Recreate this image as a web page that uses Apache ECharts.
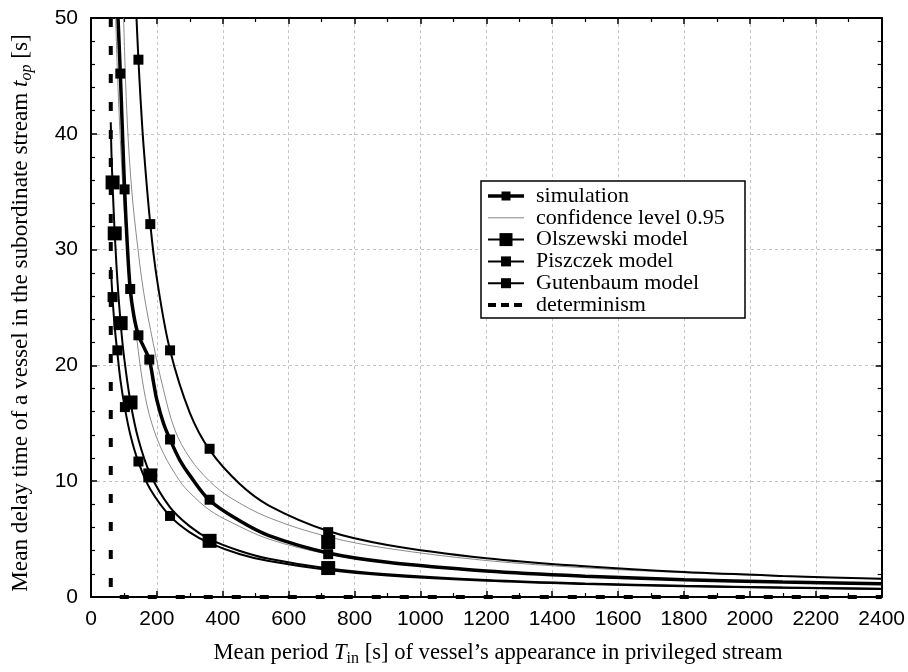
<!DOCTYPE html>
<html>
<head>
<meta charset="utf-8">
<script src="https://cdn.jsdelivr.net/npm/echarts@6/dist/echarts.min.js"></script>
<style>
html,body{margin:0;padding:0;background:#fff;}
#c{width:908px;height:672px;}
</style>
</head>
<body>
<div id="c"></div>
<script>
// ---------- data ----------
const xTicks = [0,200,400,600,800,1000,1200,1400,1600,1800,2000,2200,2400];
const yTicks = [0,10,20,30,40,50];

// simulation (thick line)
const T_SIM = [82, 89, 95, 102, 110, 119, 130, 144, 160, 177, 190, 200, 220, 240, 270, 300, 360, 450, 540, 720, 900, 1200, 1500, 1800, 2100, 2400];
const SIM   = [50, 45.2, 40.5, 35.2, 30.5, 26.6, 24.3, 22.6, 21.6, 20.5, 18.5, 17.0, 15.0, 13.6, 11.8, 10.5, 8.35, 6.6, 5.3, 3.8, 3.0, 2.25, 1.8, 1.5, 1.3, 1.15];
// 0.95 confidence band
const T_UP = [99, 105, 113, 125, 139, 160, 189, 220, 255, 300, 360, 422, 540, 720, 900, 1200, 1500, 1800, 2100, 2400];
const CONF_UP = [50, 44.5, 39.5, 34.7, 30.9, 26.3, 21.9, 17.9, 14.4, 12.0, 10.0, 8.6, 6.85, 5.2, 4.2, 3.15, 2.52, 2.1, 1.8, 1.56];
const T_LO = [75, 80, 89, 100, 107, 120, 139, 160, 184.5, 220, 270, 300, 360, 422, 540, 720, 900, 1200, 1500, 1800, 2100, 2400];
const CONF_LO = [50, 45.5, 39.5, 33.8, 31, 27, 22.3, 18.0, 15.0, 12.4, 10.0, 9.0, 7.5, 6.5, 5.0, 3.7, 2.95, 2.2, 1.75, 1.45, 1.25, 1.08];

// models
const T_OLS = [60, 62, 65.5, 70, 72, 80, 90, 100, 120, 144, 180, 240, 300, 360, 450, 540, 720, 900, 1200, 1500, 1800, 2100, 2400];
const OLS   = [41, 38.4, 35.6, 32.6, 31.4, 27.4, 23.65, 20.8, 16.8, 13.6, 10.6, 7.74, 6.1, 5.0, 4.0, 3.3, 2.46, 1.96, 1.46, 1.16, 0.97, 0.83, 0.72];
const T_PIS = [60, 65.5, 72, 80, 90, 102.9, 120, 144, 180, 240, 300, 360, 450, 540, 720, 900, 1200, 1500, 1800, 2100, 2400];
const PIS   = [28.5, 25.8, 23.3, 21.1, 18.6, 16.3, 13.95, 11.65, 9.3, 6.98, 5.58, 4.65, 3.72, 3.1, 2.33, 1.86, 1.4, 1.12, 0.93, 0.8, 0.70];
const T_GUT = [136, 140, 144, 150, 160, 180, 200, 240, 300, 360, 450, 540, 720, 900, 1200, 1500, 1800, 2100, 2400];
const GUT   = [51.3, 48.8, 46.4, 43.2, 38.8, 32.2, 27.5, 21.3, 15.9, 12.7, 9.8, 7.9, 5.7, 4.5, 3.35, 2.65, 2.15, 1.82, 1.57];

// markers
const SIM_MT = [89, 102, 119, 144, 177, 240, 360, 720];
const SIM_MV = [45.2, 35.2, 26.6, 22.6, 20.5, 13.6, 8.4, 3.7];
const OLS_MT = [65.5, 72, 90, 120, 180, 360, 720, 720];
const OLS_MV = [35.8, 31.4, 23.65, 16.8, 10.5, 4.85, 4.75, 2.5];
const PIS_MT = [65.5, 80, 102.9, 144, 240, 720];
const PIS_MV = [25.9, 21.3, 16.4, 11.7, 7.0, 2.33];
const GUT_MT = [144, 180, 240, 360, 720];
const GUT_MV = [46.4, 32.2, 21.3, 12.8, 5.6];

// determinism: delay unbounded below T=60, zero above
const DET_T = [60, 60, 2400];
const DET_V = [50, 0, 0];

const legendNames = ['simulation', 'confidence level 0.95', 'Olszewski model', 'Piszczek model', 'Gutenbaum model', 'determinism'];

// ---------- build ----------
const zip = (a, b) => a.map((x, i) => [x, b[i]]);
const chart = echarts.init(document.getElementById('c'), null, {renderer: 'canvas'});
const SERIF = '"Liberation Serif","Times New Roman",serif';
const SANS = '"Liberation Sans",Arial,sans-serif';

function lineS(name, T, V, w, color, z) {
  return {name, type: 'line', data: zip(T, V), smooth: 0.35, showSymbol: false, symbol: 'none',
    lineStyle: {color, width: w}, z: z || 3, silent: true, animation: false};
}
function markS(name, T, V, size) {
  return {name, type: 'scatter', data: zip(T, V), symbol: 'rect', symbolSize: size,
    itemStyle: {color: '#000', opacity: 1}, z: 5, silent: true, animation: false};
}

const axisCommonX = {
  type: 'value', min: xTicks[0], max: xTicks[xTicks.length - 1], interval: 200,
  axisLine: {show: true, onZero: false, lineStyle: {color: '#000', width: 2}},
  axisTick: {show: true, inside: true, length: 6, lineStyle: {color: '#000', width: 1.5}},
  minorTick: {show: true, splitNumber: 2, length: 4, lineStyle: {color: '#000', width: 1.2}},
};
const axisCommonY = {
  type: 'value', min: yTicks[0], max: yTicks[yTicks.length - 1], interval: 10,
  axisLine: {show: true, onZero: false, lineStyle: {color: '#000', width: 2}},
  axisTick: {show: true, inside: true, length: 6, lineStyle: {color: '#000', width: 1.5}},
  minorTick: {show: true, splitNumber: 5, length: 4, lineStyle: {color: '#000', width: 1.2}},
};

// legend drawn as graphic
const LX = 481, LY = 181, LW = 264, LH = 137, ROW = 21.8;
const legendG = [{type: 'rect', shape: {x: LX, y: LY, width: LW, height: LH}, style: {fill: '#fff', stroke: '#000', lineWidth: 1.5}, z: 10}];
const icons = [
  {w: 3.5, c: '#000', m: 9, dash: null},
  {w: 1, c: '#888', m: 0, dash: null},
  {w: 2, c: '#000', m: 13, dash: null},
  {w: 2, c: '#000', m: 10, dash: null},
  {w: 2, c: '#000', m: 10, dash: null},
  {w: 4, c: '#000', m: 0, dash: [8, 5]},
];
legendNames.forEach((n, i) => {
  const cy = LY + 15 + i * ROW;
  const ic = icons[i];
  legendG.push({type: 'line', shape: {x1: 488, y1: cy, x2: 524, y2: cy}, style: {stroke: ic.c, lineWidth: ic.w, lineDash: ic.dash}, z: 11});
  if (ic.m) legendG.push({type: 'rect', shape: {x: 506 - ic.m / 2, y: cy - ic.m / 2, width: ic.m, height: ic.m}, style: {fill: '#000'}, z: 11});
  legendG.push({type: 'text', x: 536, y: cy, style: {text: n, font: '22px ' + SERIF, fill: '#000', textVerticalAlign: 'middle', textAlign: 'left'}, z: 11});
});

const titleRich = (fs) => ({
  n: {fontFamily: SERIF, fontSize: fs, color: '#000'},
  i: {fontFamily: SERIF, fontSize: fs, fontStyle: 'italic', color: '#000'},
  s: {fontFamily: SERIF, fontSize: Math.round(fs * 0.7), color: '#000', padding: [12, 0, 0, 0]},
  si: {fontFamily: SERIF, fontSize: Math.round(fs * 0.7), fontStyle: 'italic', color: '#000', padding: [12, 0, 0, 0]},
});

const option = {
  backgroundColor: '#fff',
  animation: false,
  grid: {left: 91, right: 25, top: 18, bottom: 75, containLabel: false},
  xAxis: [
    Object.assign({}, axisCommonX, {position: 'bottom',
      axisLabel: {color: '#000', fontFamily: SANS, fontSize: 21, margin: 12, formatter: v => String(v)},
      splitLine: {show: true, lineStyle: {color: '#c4c4c4', width: 1, type: [3, 3]}}}),
    Object.assign({}, axisCommonX, {position: 'top', axisLabel: {show: false}, splitLine: {show: false}}),
  ],
  yAxis: [
    Object.assign({}, axisCommonY, {position: 'left',
      axisLabel: {color: '#000', fontFamily: SANS, fontSize: 21, margin: 13, formatter: v => String(v)},
      splitLine: {show: true, lineStyle: {color: '#c4c4c4', width: 1, type: [3, 3]}}}),
    Object.assign({}, axisCommonY, {position: 'right', axisLabel: {show: false}, splitLine: {show: false}}),
  ],
  series: [
    lineS('confidence upper', T_UP, CONF_UP, 1, '#8a8a8a', 2),
    lineS('confidence lower', T_LO, CONF_LO, 1, '#8a8a8a', 2),
    lineS('Gutenbaum model', T_GUT, GUT, 2, '#000'),
    lineS('Olszewski model', T_OLS, OLS, 2, '#000'),
    lineS('Piszczek model', T_PIS, PIS, 2, '#000'),
    lineS('simulation', T_SIM, SIM, 3.5, '#000', 4),
    Object.assign(lineS('determinism', DET_T, DET_V, 4, '#000', 6), {smooth: false, clip: false, lineStyle: {color: '#000', width: 4, type: [9, 19]}}),
    markS('simulation pts', SIM_MT, SIM_MV, 10),
    markS('Olszewski pts', OLS_MT, OLS_MV, 14),
    markS('Piszczek pts', PIS_MT, PIS_MV, 10),
    markS('Gutenbaum pts', GUT_MT, GUT_MV, 10),
  ],
  graphic: legendG.concat([
    {type: 'text', x: 498, y: 653, style: {text: '{n|Mean period }{i|T}{s|in}{n| [s] of vessel\u2019s appearance in privileged stream}', rich: titleRich(22.6), textAlign: 'center', textVerticalAlign: 'middle'}, z: 12},
    {type: 'text', x: 21, y: 313, rotation: Math.PI / 2, style: {text: '{n|Mean delay time of a vessel in the subordinate stream }{i|t}{si|op}{n| [s]}', rich: titleRich(23.2), textAlign: 'center', textVerticalAlign: 'middle'}, z: 12},
  ]),
};
chart.setOption(option);
</script>
</body>
</html>
